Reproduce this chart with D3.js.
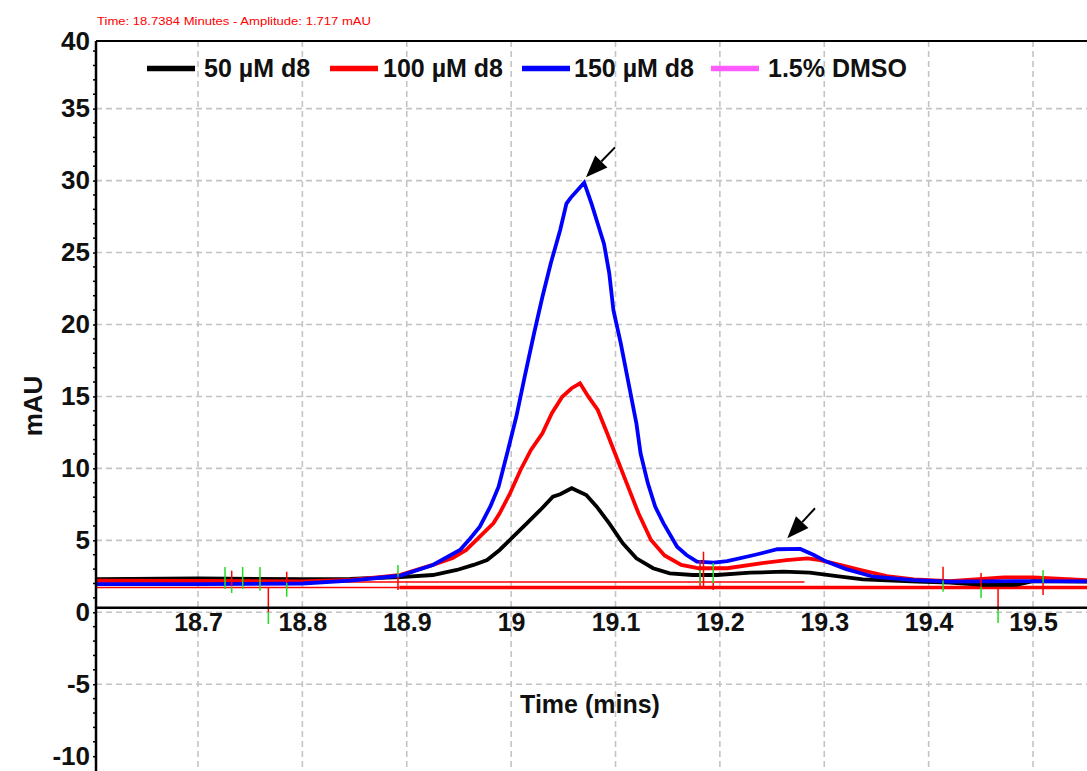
<!DOCTYPE html>
<html><head><meta charset="utf-8">
<script src="https://cdn.jsdelivr.net/npm/d3@7/dist/d3.min.js"></script>
<style>
body{margin:0;background:#fff}
svg{display:block}
text{font-family:"Liberation Sans",Arial,Helvetica,sans-serif}
</style>
</head><body>
<svg id="chart" width="1087" height="771"></svg>
<script>
// ---------------- data ----------------
const xTicks = [18.7, 18.8, 18.9, 19, 19.1, 19.2, 19.3, 19.4, 19.5];
const yTicks = [-10, -5, 0, 5, 10, 15, 20, 25, 30, 35, 40];
const yGrid = [-5, 0, 5, 10, 15, 20, 25, 30, 35];
const seriesNames = ["50 µM d8", "100 µM d8", "150 µM d8", "1.5% DMSO"];
const headerText = "Time:  18.7384 Minutes - Amplitude:  1.717 mAU";

// [time (min), mAU]
const d8_50 = [
  [18.603,2.30],[18.70,2.35],[18.80,2.30],[18.846,2.32],[18.874,2.40],[18.894,2.45],
  [18.925,2.59],[18.948,2.94],[18.964,3.29],[18.977,3.63],[18.989,4.33],[19.002,5.25],
  [19.015,6.18],[19.028,7.11],[19.040,8.03],[19.047,8.20],[19.058,8.62],[19.072,8.15],
  [19.082,7.34],[19.094,6.18],[19.107,4.79],[19.120,3.75],[19.136,3.06],[19.152,2.71],
  [19.174,2.59],[19.197,2.59],[19.229,2.75],[19.261,2.82],[19.286,2.75],[19.312,2.52],
  [19.337,2.29],[19.389,2.13],[19.420,2.06],[19.452,1.90],[19.484,1.90],[19.500,2.17],
  [19.552,2.13]
];
const d8_100 = [
  [18.603,2.20],[18.70,2.18],[18.80,2.15],[18.846,2.25],[18.874,2.45],[18.894,2.60],
  [18.925,3.29],[18.944,3.77],[18.957,4.33],[18.970,5.25],[18.983,6.18],[18.989,6.88],
  [18.999,8.27],[19.009,9.89],[19.019,11.28],[19.030,12.44],[19.039,13.83],[19.049,14.98],
  [19.058,15.57],[19.066,15.91],[19.074,14.98],[19.083,14.06],[19.092,12.44],[19.102,10.58],
  [19.112,8.73],[19.122,6.88],[19.134,5.02],[19.147,3.95],[19.163,3.29],[19.180,3.06],
  [19.207,3.06],[19.239,3.40],[19.264,3.63],[19.284,3.75],[19.296,3.63],[19.315,3.29],
  [19.335,2.94],[19.360,2.52],[19.386,2.29],[19.420,2.17],[19.472,2.43],[19.500,2.43],
  [19.552,2.24]
];
const d8_150 = [
  [18.603,1.95],[18.70,1.95],[18.80,2.00],[18.846,2.20],[18.874,2.40],[18.894,2.55],
  [18.925,3.29],[18.951,4.33],[18.961,5.14],[18.970,5.95],[18.980,7.34],[18.988,8.73],
  [18.997,11.28],[19.005,13.60],[19.013,16.37],[19.022,19.39],[19.030,21.93],[19.038,24.25],
  [19.047,26.57],[19.053,28.40],[19.057,28.80],[19.070,29.85],[19.077,28.40],[19.083,27.00],
  [19.089,25.60],[19.094,23.56],[19.098,21.00],[19.105,18.70],[19.110,16.84],[19.115,14.98],
  [19.120,13.13],[19.124,11.05],[19.131,8.96],[19.138,7.34],[19.146,6.18],[19.159,4.56],
  [19.168,3.98],[19.178,3.52],[19.194,3.45],[19.207,3.55],[19.233,3.98],[19.255,4.38],
  [19.277,4.40],[19.290,3.98],[19.302,3.52],[19.321,3.00],[19.347,2.47],[19.386,2.24],
  [19.420,2.13],[19.484,2.17],[19.552,2.15]
];
// integration baselines: [startTime, endTime, mAU]
const baselinesThin = [[18.603, 19.281, 2.10], [18.603, 18.893, 1.72]];
const baselinesThick = [[18.893, 19.552, 1.72]];
// peak markers: [time, topValue, bottomValue]
const redMarks = [
  [18.7323,2.89,1.80],[18.7674,1.76,0.00],[18.7850,2.82,2.04],[18.8916,2.47,1.55],
  [19.1810,3.63,1.78],[19.1843,4.21,1.78],[19.1936,2.04,1.55],[19.4138,3.17,2.20],
  [19.4502,2.73,1.78],[19.4665,1.69,0.16],[19.5096,2.04,1.20]
];
const greenMarks = [
  [18.7259,3.15,1.62],[18.7323,1.80,1.34],[18.7428,3.15,1.62],[18.7594,3.15,1.50],
  [18.7674,0.00,-0.82],[18.7850,2.04,1.08],[18.8916,3.29,2.47],[19.1810,2.94,2.04],
  [19.1936,3.43,2.04],[19.4138,2.20,1.43],[19.4502,1.78,0.99],[19.4665,0.16,-0.74],
  [19.5096,2.94,2.04]
];
// arrows: [tailTime, tailValue, tipTime, tipValue]
const arrows = [[19.0995,32.31,19.0717,30.23],[19.2911,7.23,19.2646,5.14]];

// ---------------- drawing ----------------
const svg = d3.select("#chart");
const W = 1087, H = 771;
const plotLeft = 96, plotTop = 41;
const x = d3.scaleLinear().domain([18.6023, 19.5517]).range([plotLeft, W]);
const y = d3.scaleLinear().domain([-11.03, 39.70]).range([H, plotTop]);
const colors = ["#000000", "#ff0000", "#0000ff", "#ff5cff"];
const gridColor = "#c4c4c4";

// header
svg.append("text").attr("x", 97).attr("y", 25).attr("fill", "#ff0000")
  .attr("font-size", 11).attr("textLength", 274).attr("lengthAdjust", "spacingAndGlyphs")
  .text(headerText);

// grid
const grid = svg.append("g");
grid.selectAll(".vg").data(xTicks).join("line")
  .attr("x1", d => x(d)).attr("x2", d => x(d)).attr("y1", plotTop).attr("y2", H)
  .attr("stroke", gridColor).attr("stroke-width", 1.6).attr("stroke-dasharray", "6,4");
grid.selectAll(".hg").data(yGrid).join("line")
  .attr("x1", plotLeft).attr("x2", W).attr("y1", d => y(d)).attr("y2", d => y(d))
  .attr("stroke", gridColor).attr("stroke-width", 1.6).attr("stroke-dasharray", "6,4");

// baselines
svg.append("g").selectAll("line").data(baselinesThin).join("line")
  .attr("x1", d => x(d[0])).attr("x2", d => x(d[1])).attr("y1", d => y(d[2])).attr("y2", d => y(d[2]))
  .attr("stroke", "#ff0000").attr("stroke-width", 1.5);
svg.append("g").selectAll("line").data(baselinesThick).join("line")
  .attr("x1", d => x(d[0])).attr("x2", d => x(d[1])).attr("y1", d => y(d[2])).attr("y2", d => y(d[2]))
  .attr("stroke", "#ff0000").attr("stroke-width", 3.5);

// traces
const line = d3.line().x(d => x(d[0])).y(d => y(d[1])).curve(d3.curveLinear);
const traces = [[d8_50, 0], [d8_100, 1], [d8_150, 2]];
svg.append("g").selectAll("path").data(traces).join("path")
  .attr("d", d => line(d[0])).attr("fill", "none")
  .attr("stroke", d => colors[d[1]]).attr("stroke-width", 3.8)
  .attr("stroke-linejoin", "miter");

// markers
svg.append("g").selectAll("line").data(redMarks).join("line")
  .attr("x1", d => x(d[0])).attr("x2", d => x(d[0])).attr("y1", d => y(d[1])).attr("y2", d => y(d[2]))
  .attr("stroke", "#ff0000").attr("stroke-width", 1.5);
svg.append("g").selectAll("line").data(greenMarks).join("line")
  .attr("x1", d => x(d[0])).attr("x2", d => x(d[0])).attr("y1", d => y(d[1])).attr("y2", d => y(d[2]))
  .attr("stroke", "#22dd22").attr("stroke-width", 1.5);

// arrows
const ag = svg.append("g");
arrows.forEach(a => {
  const x0 = x(a[0]), y0 = y(a[1]), x1 = x(a[2]), y1 = y(a[3]);
  const ang = Math.atan2(y1 - y0, x1 - x0);
  const hl = 22, hw = 8.5;
  const bx = x1 - hl * Math.cos(ang), by = y1 - hl * Math.sin(ang);
  ag.append("line").attr("x1", x0).attr("y1", y0).attr("x2", bx).attr("y2", by)
    .attr("stroke", "#000").attr("stroke-width", 2);
  const px = -Math.sin(ang) * hw, py = Math.cos(ang) * hw;
  ag.append("path").attr("d", `M${x1},${y1}L${bx + px},${by + py}L${bx - px},${by - py}Z`).attr("fill", "#000");
});

// top border
svg.append("line").attr("x1", plotLeft).attr("x2", W).attr("y1", plotTop).attr("y2", plotTop)
  .attr("stroke", "#000").attr("stroke-width", 2);

const fmt = d => String(d);

// x axis
const xAxisY = y(0) - 4.6;
const xAxis = svg.append("g").attr("transform", `translate(0,${xAxisY})`)
  .call(d3.axisBottom(x).tickValues(xTicks).tickSize(0).tickPadding(6).tickFormat(fmt));
xAxis.select(".domain").attr("d", `M${plotLeft},0H${W}`).attr("stroke", "#000").attr("stroke-width", 2.5);
xAxis.selectAll("text").attr("font-size", 25).attr("font-weight", "bold").attr("fill", "#111")
  .style("font-family", '"Liberation Sans",Arial,sans-serif');

// y axis
const yAxis = svg.append("g").attr("transform", `translate(${plotLeft},0)`)
  .call(d3.axisLeft(y).tickValues(yTicks).tickSize(3).tickPadding(3).tickFormat(fmt));
yAxis.select(".domain").attr("d", `M0,${plotTop}V${H}`).attr("stroke", "#000").attr("stroke-width", 2.5);
yAxis.selectAll(".tick line").attr("stroke", "#000").attr("stroke-width", 1.5);
yAxis.selectAll("text").attr("font-size", 26).attr("font-weight", "bold").attr("fill", "#111")
  .style("font-family", '"Liberation Sans",Arial,sans-serif');
yAxis.selectAll(".tick").filter(d => d === 40).attr("transform", `translate(0,${plotTop + 1})`)
  .select("line").remove();
// minor ticks
const minor = d3.range(-10, 40, 1).filter(v => v % 5 !== 0);
yAxis.selectAll(".minor").data(minor).join("line").attr("class", "minor")
  .attr("x1", -3).attr("x2", 0).attr("y1", d => y(d)).attr("y2", d => y(d))
  .attr("stroke", "#000").attr("stroke-width", 1.5);

// axis titles
svg.append("text").attr("x", 590).attr("y", 713).attr("text-anchor", "middle")
  .attr("font-size", 25).attr("font-weight", "bold").attr("fill", "#111").text("Time (mins)");
svg.append("text").attr("transform", "translate(42,406) rotate(-90)").attr("text-anchor", "middle")
  .attr("font-size", 26).attr("font-weight", "bold").attr("fill", "#111").text("mAU");

// legend
const legX = [147, 330, 522, 711];
const legTextX = [204, 383, 574, 768];
const lg = svg.append("g");
seriesNames.forEach((n, i) => {
  lg.append("line").attr("x1", legX[i]).attr("x2", legX[i] + 48).attr("y1", 68.5).attr("y2", 68.5)
    .attr("stroke", colors[i]).attr("stroke-width", 5.5);
  lg.append("text").attr("x", legTextX[i]).attr("y", 77).attr("font-size", 25)
    .attr("font-weight", "bold").attr("fill", "#111").text(n);
});
</script>
</body></html>
